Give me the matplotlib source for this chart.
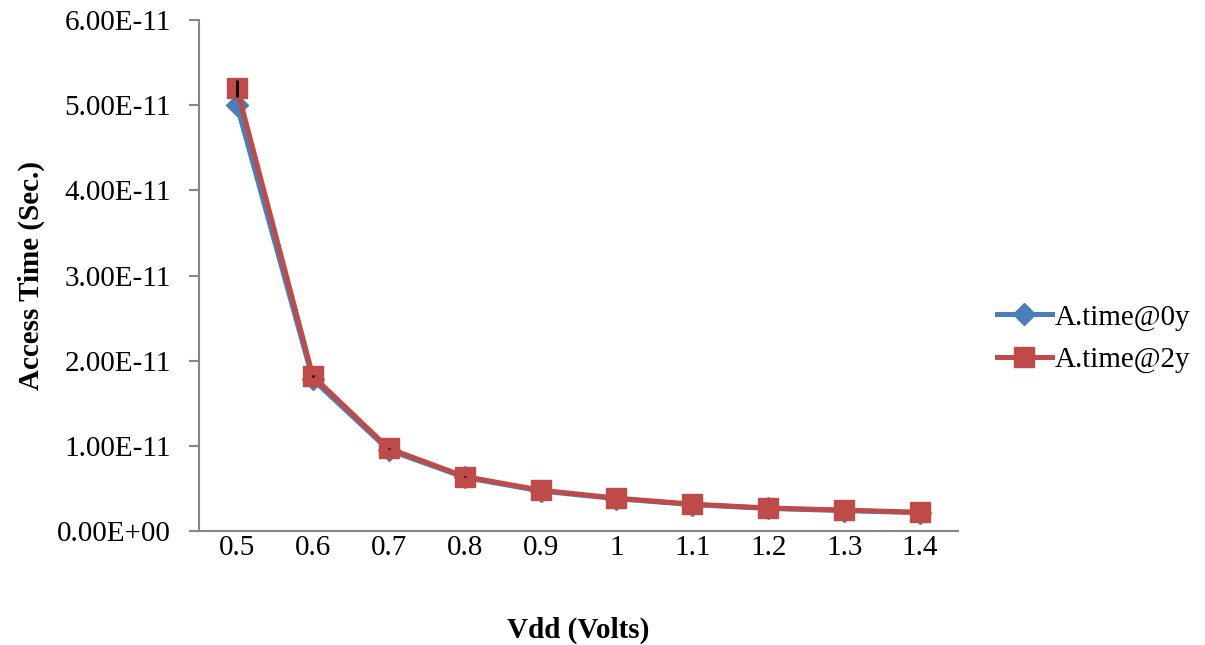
import numpy as np
import matplotlib.pyplot as plt

plt.rcParams['font.family'] = ['Liberation Serif', 'DejaVu Serif']

vdd = ['0.5', '0.6', '0.7', '0.8', '0.9', '1', '1.1', '1.2', '1.3', '1.4']
time_0y = [5.00e-11, 1.78e-11, 0.95e-11, 0.63e-11, 0.47e-11, 0.38e-11,
           0.31e-11, 0.265e-11, 0.24e-11, 0.215e-11]
time_2y = [5.20e-11, 1.82e-11, 0.97e-11, 0.64e-11, 0.48e-11, 0.386e-11,
           0.316e-11, 0.27e-11, 0.246e-11, 0.22e-11]
err_2y = [1.0e-12, 1.2e-13, 5e-14, 4e-14, 3e-14, 3e-14, 2e-14, 2e-14, 2e-14, 2e-14]

fig = plt.figure(figsize=(12.05, 6.45), dpi=100)
ax = fig.add_axes([0.1651, 0.1767, 0.630, 0.7923])

x = np.arange(len(vdd))
ax.plot(x, time_0y, color='#4A7EBB', lw=3.6, marker='D', ms=11,
        label='A.time@0y', zorder=3)
ax.plot(x, time_2y, color='#BE4B48', lw=3.6, marker='s', ms=14,
        label='A.time@2y', zorder=4)
ax.errorbar(x, time_2y, yerr=err_2y, fmt='none', ecolor='black',
            elinewidth=2, capsize=0, zorder=5)

ax.set_xlim(-0.5, len(vdd) - 0.5)
ax.set_ylim(0, 6e-11)
ax.set_xticks(x)
ax.set_xticklabels(vdd)
yt = np.arange(0, 7) * 1e-11
ax.set_yticks(yt)
ax.set_yticklabels(['%.2E' % v for v in yt])

for s in ['top', 'right']:
    ax.spines[s].set_visible(False)
for s in ['left', 'bottom']:
    ax.spines[s].set_color('#868686')
    ax.spines[s].set_linewidth(1.5)
ax.tick_params(axis='x', length=0, pad=3, labelsize=21)
ax.tick_params(axis='y', length=7, width=1.5, color='#868686', pad=13,
               labelsize=21)

ax.set_xlabel('Vdd (Volts)', fontsize=21, fontweight='bold')
ax.xaxis.set_label_coords(0.5, -0.168)
ax.set_ylabel('Access Time (Sec.)', fontsize=21, fontweight='bold')
ax.yaxis.set_label_coords(-0.203, 0.5)

fig.legend(loc='center left', bbox_to_anchor=(0.827, 0.475), frameon=False,
           fontsize=21, handlelength=1.9, handletextpad=0.1,
           labelspacing=0.55, borderaxespad=0, borderpad=0)

fig.savefig('out.png', dpi=100)
